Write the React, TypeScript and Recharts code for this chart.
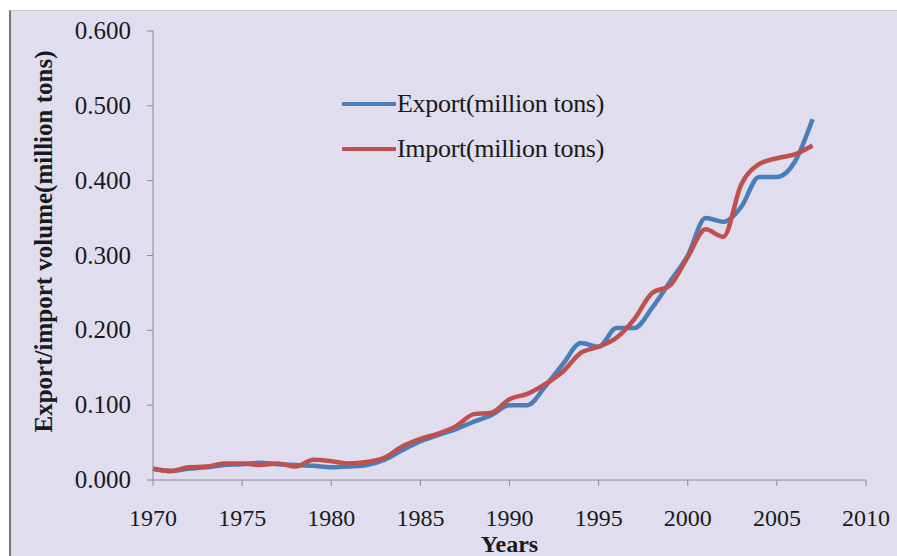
import React from 'react';
import { LineChart, Line, XAxis, YAxis, Legend } from 'recharts';

const years = [
  1970, 1971, 1972, 1973, 1974, 1975, 1976, 1977, 1978, 1979,
  1980, 1981, 1982, 1983, 1984, 1985, 1986, 1987, 1988, 1989,
  1990, 1991, 1992, 1993, 1994, 1995, 1996, 1997, 1998, 1999,
  2000, 2001, 2002, 2003, 2004, 2005, 2006, 2007,
];

const exportValues = [
  0.015, 0.012, 0.015, 0.017, 0.020, 0.021, 0.023, 0.021, 0.020, 0.019,
  0.017, 0.018, 0.020, 0.027, 0.040, 0.052, 0.060, 0.068, 0.078, 0.087,
  0.100, 0.100, 0.125, 0.155, 0.183, 0.178, 0.203, 0.203, 0.230, 0.265,
  0.300, 0.350, 0.345, 0.365, 0.405, 0.405, 0.425, 0.482,
];

const importValues = [
  0.015, 0.012, 0.017, 0.018, 0.022, 0.022, 0.020, 0.022, 0.018, 0.027,
  0.025, 0.022, 0.024, 0.030, 0.045, 0.055, 0.062, 0.072, 0.088, 0.090,
  0.108, 0.115, 0.128, 0.145, 0.170, 0.178, 0.190, 0.215, 0.250, 0.260,
  0.298, 0.335, 0.325, 0.395, 0.422, 0.430, 0.435, 0.447,
];

const xTicks = [1970, 1975, 1980, 1985, 1990, 1995, 2000, 2005, 2010];
const yTicks = [0, 0.1, 0.2, 0.3, 0.4, 0.5, 0.6];

const EXPORT_NAME = 'Export(million tons)';
const IMPORT_NAME = 'Import(million tons)';

const data = years.map((year, i) => ({
  year,
  exp: exportValues[i],
  imp: importValues[i],
}));

const FONT = '"Liberation Serif", "Times New Roman", serif';
const AXIS = '#8c8c8c';
const INK = '#1a1a1a';

// ticks drawn by hand so the serif font sticks
const XTick = (props: any) => {
  const { x, y, payload } = props;
  return (
    <text x={x} y={y + 28} textAnchor="middle" fontFamily={FONT} fontSize={24} fill={INK}>
      {payload.value}
    </text>
  );
};

const YTick = (props: any) => {
  const { x, y, payload } = props;
  return (
    <text x={x} y={y + 8} textAnchor="end" fontFamily={FONT} fontSize={25} fill={INK}>
      {Number(payload.value).toFixed(3)}
    </text>
  );
};

const YLabel = (props: any) => {
  const { viewBox } = props;
  const cx = viewBox.x + 32;
  const cy = viewBox.y + viewBox.height / 2 - 14;
  return (
    <text
      x={cx}
      y={cy}
      transform={`rotate(-90 ${cx} ${cy})`}
      textAnchor="middle"
      dominantBaseline="central"
      fontFamily={FONT}
      fontWeight="bold"
      fontSize={25}
      fill={INK}
    >
      Export/import volume(million tons)
    </text>
  );
};

const XLabel = (props: any) => {
  const { viewBox } = props;
  return (
    <text
      x={viewBox.x + viewBox.width / 2}
      y={viewBox.y + 72}
      textAnchor="middle"
      fontFamily={FONT}
      fontWeight="bold"
      fontSize={24}
      fill={INK}
    >
      Years
    </text>
  );
};

const LegendBox = (props: any) => {
  const { payload } = props;
  return (
    <div style={{ fontFamily: FONT, fontSize: 26, color: INK, letterSpacing: -0.3 }}>
      {payload.map((entry: any) => (
        <div key={entry.value} style={{ display: 'flex', alignItems: 'center', height: 45 }}>
          <svg width={54} height={8} style={{ marginRight: 1 }}>
            <line x1={1} y1={4} x2={53} y2={4} stroke={entry.color} strokeWidth={4} strokeLinecap="round" />
          </svg>
          <span>{entry.value}</span>
        </div>
      ))}
    </div>
  );
};

const App: React.FC = () => {
  return (
    <div style={{ position: 'absolute', left: 0, top: 0, width: 897, height: 556, background: '#fff', overflow: 'hidden', fontFamily: FONT }}>
      <div
        style={{
          position: 'absolute',
          left: 9,
          top: 10,
          width: 888,
          height: 546,
          background: '#dfddee',
          borderLeft: '2px solid #77767f',
          borderTop: '1px solid #c4c2d4',
          boxSizing: 'border-box',
        }}
      >
        <LineChart
          width={886}
          height={545}
          data={data}
          margin={{ top: 20, right: 31, left: 0, bottom: 0 }}
        >
          <XAxis
            dataKey="year"
            type="number"
            domain={[1970, 2010]}
            ticks={xTicks}
            interval={0}
            height={76}
            stroke={AXIS}
            tickSize={6}
            tickMargin={12}
            tick={<XTick />}
            label={<XLabel />}
          />
          <YAxis
            type="number"
            domain={[0, 0.6]}
            ticks={yTicks}
            interval={0}
            width={142}
            stroke={AXIS}
            tickSize={6}
            tickMargin={16}
            tick={<YTick />}
            label={<YLabel />}
          />
          <Legend
            layout="vertical"
            verticalAlign="middle"
            align="center"
            content={<LegendBox />}
            wrapperStyle={{ left: 331, top: 70, width: 340 }}
          />
          <Line
            type="monotone"
            dataKey="exp"
            name={EXPORT_NAME}
            stroke="#4a7ebb"
            strokeWidth={4.5}
            dot={false}
            isAnimationActive={false}
          />
          <Line
            type="monotone"
            dataKey="imp"
            name={IMPORT_NAME}
            stroke="#c0504d"
            strokeWidth={4.5}
            dot={false}
            isAnimationActive={false}
          />
        </LineChart>
      </div>
    </div>
  );
};

export default App;
